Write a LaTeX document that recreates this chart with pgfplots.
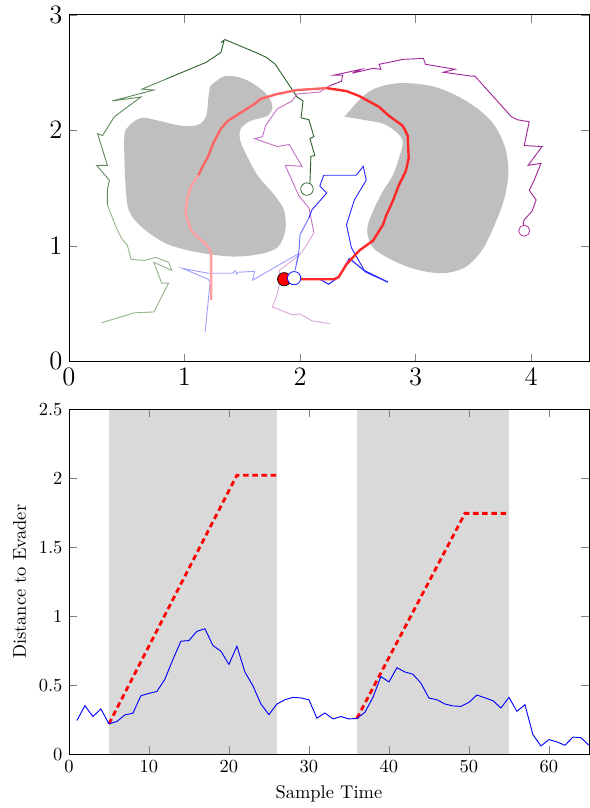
\documentclass[border=0pt]{standalone}
\usepackage{pgfplots}
\pgfplotsset{compat=1.18}

\definecolor{grA}{RGB}{45,100,45}
\definecolor{grB}{RGB}{95,140,95}
\definecolor{grC}{RGB}{150,180,140}
\definecolor{mgA}{RGB}{160,40,150}
\definecolor{mgB}{RGB}{195,115,195}
\definecolor{mgC}{RGB}{220,165,220}
\definecolor{rdA}{RGB}{255,40,40}
\definecolor{rdB}{RGB}{255,100,100}
\definecolor{rdC}{RGB}{255,160,160}
\definecolor{blA}{RGB}{40,40,255}
\definecolor{blB}{RGB}{110,110,255}
\definecolor{blC}{RGB}{160,160,255}

\begin{document}
\begin{tikzpicture}
% map of the pursuit
\begin{axis}[
    name=map,
    at={(0,0)},anchor=south west,
    scale only axis,
    width=282pt,height=188pt,
    xmin=0,xmax=4.5,ymin=0,ymax=3,
    xtick={0,1,2,3,4},ytick={0,1,2,3},
    tick label style={font=\Large},
    tick style={gray},
]
% obstacles
\addplot[fill=gray!50,draw=none,smooth,tension=0.55] coordinates {
(1.222,2.382) (1.350,2.468) (1.521,2.442) (1.692,2.331) (1.761,2.211)
(1.718,2.125) (1.573,2.082) (1.487,2.014) (1.479,1.928) (1.521,1.817)
(1.632,1.611) (1.778,1.440) (1.863,1.302) (1.872,1.131) (1.803,0.985)
(1.632,0.925) (1.402,0.908) (1.120,0.943) (0.863,1.011) (0.667,1.131)
(0.538,1.268) (0.496,1.440) (0.479,1.928) (0.521,2.039) (0.632,2.108)
(0.778,2.082) (0.974,2.039) (1.120,2.048) (1.188,2.125) (1.205,2.271)
(1.222,2.382)} --cycle;
\addplot[fill=gray!50,draw=none,smooth,tension=0.55] coordinates {
(2.385,2.117) (2.547,2.296) (2.684,2.374) (2.889,2.408) (3.171,2.374)
(3.453,2.245) (3.658,2.074) (3.769,1.868) (3.803,1.645) (3.769,1.414)
(3.684,1.183) (3.573,0.960) (3.427,0.814) (3.231,0.763) (3.000,0.797)
(2.803,0.874) (2.632,0.985) (2.581,1.140) (2.632,1.302) (2.718,1.474)
(2.803,1.611) (2.855,1.757) (2.889,1.902) (2.829,1.988) (2.718,2.057)
(2.547,2.091) (2.385,2.117)} --cycle;

% green pursuer
\addplot[grA,line width=0.5pt] coordinates {
(2.060,1.491) (2.085,1.525) (2.094,1.774) (2.128,1.782) (2.085,1.928)
(2.120,1.945) (2.077,2.091) (2.009,2.108) (2.026,2.254) (1.974,2.288)
(1.786,2.571) (1.709,2.631) (1.615,2.674) (1.350,2.785) (1.316,2.759)
(1.342,2.776) (1.316,2.674) (1.188,2.588) (0.838,2.442)};
\addplot[grB,line width=0.5pt] coordinates {
(0.838,2.442) (0.632,2.356) (0.735,2.348) (0.376,2.254) (0.624,2.288)
(0.393,2.117) (0.291,1.954) (0.248,1.971) (0.333,1.697) (0.239,1.697)
(0.350,1.568) (0.333,1.482) (0.333,1.354)};
\addplot[grC,line width=0.5pt] coordinates {
(0.333,1.354) (0.410,1.157) (0.462,1.054) (0.504,1.011) (0.538,0.883)
(0.650,0.874) (0.752,0.900) (0.863,0.857) (0.889,0.788) (0.735,0.857)
(0.803,0.677) (0.863,0.677) (0.735,0.428) (0.564,0.420) (0.282,0.334)};

% magenta pursuer
\addplot[mgA,line width=0.5pt] coordinates {
(3.940,1.131) (3.932,1.200) (3.940,1.225) (4.009,1.302) (4.043,1.397)
(3.983,1.482) (4.026,1.568) (4.085,1.714) (3.974,1.697) (4.094,1.859)
(3.940,1.868) (3.983,2.074) (3.880,2.091) (3.829,2.117) (3.513,2.468)
(3.487,2.468) (3.239,2.502) (3.342,2.528) (3.085,2.571) (3.068,2.622)
(2.897,2.614) (2.684,2.571) (2.701,2.528) (2.632,2.536) (2.453,2.494)
(2.530,2.528) (2.291,2.476) (2.368,2.476) (2.359,2.425) (2.248,2.382)};
\addplot[mgB,line width=0.5pt] coordinates {
(2.248,2.382) (2.171,2.331) (1.974,2.314) (1.932,2.254) (1.803,2.185)
(1.701,2.039) (1.675,1.945) (1.607,1.928) (1.803,1.859) (1.906,1.877)
(2.017,1.688) (1.872,1.697) (1.932,1.560) (1.991,1.431) (2.077,1.328)
(2.120,1.114)};
\addplot[mgC,line width=0.5pt] coordinates {
(2.120,1.114) (2.060,1.011) (2.000,0.925) (1.889,0.840) (1.821,0.788)
(1.821,0.668) (1.803,0.583) (1.761,0.471) (1.932,0.403) (2.000,0.411)
(2.103,0.351) (2.256,0.326)};

% blue evader
\addplot[blC,line width=0.5pt] coordinates {
(1.179,0.257) (1.222,0.686) (1.205,0.711) (0.983,0.805) (1.205,0.763)
(1.419,0.763) (1.440,0.785) (1.450,0.755) (1.462,0.771) (1.607,0.780)
(1.590,0.703) (1.632,0.728) (1.991,0.934)};
\addplot[blB,line width=0.5pt] coordinates {
(1.991,0.934) (1.957,0.788) (1.991,0.960) (2.000,1.097) (2.077,1.242)};
\addplot[blA,line width=0.5pt] coordinates {
(2.077,1.242) (2.103,1.311) (2.231,1.457) (2.171,1.517) (2.205,1.611)
(2.487,1.611) (2.547,1.688) (2.573,1.568) (2.470,1.397) (2.402,1.183)
(2.444,0.985) (2.556,0.788) (2.761,0.686)};
\addplot[blA,line width=0.6pt] coordinates {
(1.949,0.720) (2.171,0.711) (2.248,0.668) (2.333,0.728) (2.427,0.891)
(2.573,0.771) (2.761,0.686)};

% red pursuer
\addplot[rdC,line width=1.3pt] coordinates {
(1.231,0.531) (1.231,0.943) (1.188,1.011) (1.120,1.071) (1.060,1.131)
(1.034,1.200) (1.009,1.285) (1.026,1.414) (1.060,1.525) (1.120,1.611)};
\addplot[rdB,line width=1.3pt] coordinates {
(1.120,1.611) (1.162,1.697) (1.205,1.774) (1.248,1.885) (1.316,2.014)
(1.376,2.082) (1.607,2.228) (1.658,2.271) (1.803,2.314) (1.974,2.348)
(2.231,2.365)};
\addplot[rdA,line width=1.3pt] coordinates {
(2.231,2.365) (2.402,2.339) (2.513,2.296) (2.684,2.202) (2.769,2.125)
(2.889,2.039) (2.932,1.954) (2.940,1.757) (2.915,1.645) (2.855,1.525)
(2.803,1.388) (2.744,1.260) (2.718,1.183) (2.632,1.045) (2.513,0.960)
(2.402,0.840) (2.333,0.728) (2.291,0.711) (2.171,0.711) (2.000,0.711)
(1.863,0.711)};

% current positions
\addplot[only marks,mark=*,mark size=3.4pt,mark options={draw=grA,fill=white}] coordinates {(2.060,1.491)};
\addplot[only marks,mark=*,mark size=3.0pt,mark options={draw=mgA,fill=white}] coordinates {(3.940,1.131)};
\addplot[only marks,mark=*,mark size=3.6pt,mark options={draw=black,fill=red}] coordinates {(1.863,0.711)};
\addplot[only marks,mark=*,mark size=3.6pt,mark options={draw=blue,fill=white}] coordinates {(1.949,0.720)};
\end{axis}

% distance over time
\begin{axis}[
    at={(0,-26pt)},anchor=north west,
    scale only axis,
    width=282pt,height=187pt,
    xmin=0,xmax=65,ymin=0,ymax=2.5,
    xtick={0,10,20,30,40,50,60},
    ytick={0,0.5,1,1.5,2,2.5},
    xlabel={Sample Time},
    ylabel={Distance to Evader},
    axis on top,
]
\addplot[fill=gray!30,draw=none] coordinates {(5,0) (26,0) (26,2.5) (5,2.5)} --cycle;
\addplot[fill=gray!30,draw=none] coordinates {(36,0) (55,0) (55,2.5) (36,2.5)} --cycle;
\addplot[red,line width=1.5pt,dash pattern=on 3pt off 2pt] coordinates {(5,0.22) (21,2.023) (26,2.023)};
\addplot[red,line width=1.5pt,dash pattern=on 3pt off 2pt] coordinates {(36,0.26) (49.5,1.746) (55,1.746)};
\addplot[blue,line width=0.5pt] coordinates {
(1,0.244) (2,0.352) (3,0.273) (4,0.328) (5,0.220) (6,0.237) (7,0.285)
(8,0.297) (9,0.424) (10,0.441) (11,0.455) (12,0.544) (13,0.687) (14,0.819)
(15,0.824) (16,0.891) (17,0.910) (18,0.788) (19,0.747) (20,0.651) (21,0.783)
(22,0.596) (23,0.496) (24,0.364) (25,0.287) (26,0.364) (27,0.395) (28,0.412)
(29,0.408) (30,0.395) (31,0.261) (32,0.299) (33,0.256) (34,0.273) (35,0.256)
(36,0.259) (37,0.304) (38,0.412) (39,0.563) (40,0.524) (41,0.627) (42,0.596)
(43,0.580) (44,0.515) (45,0.407) (46,0.395) (47,0.364) (48,0.350) (49,0.347)
(50,0.376) (51,0.429) (52,0.409) (53,0.388) (54,0.335) (55,0.412) (56,0.311)
(57,0.359) (58,0.141) (59,0.060) (60,0.106) (61,0.089) (62,0.065) (63,0.124)
(64,0.120) (65,0.065)};
\end{axis}
\path ([xshift=-3.8pt]current bounding box.south west);
\end{tikzpicture}
\end{document}
